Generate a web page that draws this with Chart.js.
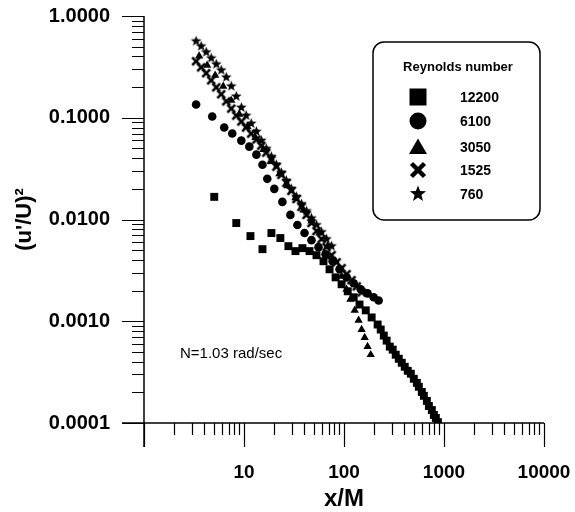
<!DOCTYPE html>
<html><head><meta charset="utf-8">
<script src="https://cdn.jsdelivr.net/npm/chart.js@4.4.0/dist/chart.umd.min.js"></script>
<style>html,body{margin:0;padding:0;background:#fff;}canvas{display:block;}</style>
</head><body>
<canvas id="c" width="575" height="512"></canvas>
<script>
// ---------- data ----------
const seriesLabels = ['12200', '6100', '3050', '1525', '760'];

const re12200X = [5.04, 8.37, 11.6, 15.3, 18.8, 23.1, 27.8, 32.7, 38.4, 45.2, 53.1, 62.4, 71.7, 82.4, 94.6, 109, 125, 143, 165, 189, 217, 233, 250, 267, 287, 307, 329, 353, 378, 405, 434, 466, 499, 535, 560, 600, 629, 674, 706, 756, 792, 829, 869];
const re12200Y = [0.0167, 0.00923, 0.00687, 0.00511, 0.00736, 0.00657, 0.00547, 0.00489, 0.00523, 0.00489, 0.00446, 0.00389, 0.00324, 0.00270, 0.00231, 0.00197, 0.00172, 0.00146, 0.00128, 0.00109, 0.000929, 0.000829, 0.000723, 0.000645, 0.000563, 0.000526, 0.000469, 0.000428, 0.000391, 0.000357, 0.000326, 0.000305, 0.000272, 0.000248, 0.000227, 0.000202, 0.000185, 0.000165, 0.000147, 0.000134, 0.000120, 0.000112, 0.000102];

const re6100X = [3.32, 4.81, 6.34, 7.63, 9.40, 11.3, 13.3, 15.3, 17.1, 20.1, 24.2, 29.1, 34.2, 40.3, 47.3, 55.6, 65.4, 76.9, 90.3, 106, 125, 147, 172, 198, 222];
const re6100Y = [0.135, 0.103, 0.0801, 0.0699, 0.0596, 0.0520, 0.0434, 0.0345, 0.0251, 0.0200, 0.0149, 0.0111, 0.00883, 0.00736, 0.00627, 0.00535, 0.00456, 0.00389, 0.00324, 0.00270, 0.00236, 0.00206, 0.00188, 0.00172, 0.00160];

const re3050X = [3.56, 4.28, 5.15, 6.20, 7.46, 8.97, 10.8, 13.0, 15.6, 18.8, 22.6, 27.2, 32.7, 39.3, 47.3, 56.9, 68.5, 82.4, 94.6, 106, 116, 128, 140, 150, 161, 172, 185];
const re3050Y = [0.403, 0.328, 0.261, 0.204, 0.148, 0.108, 0.0819, 0.0638, 0.0486, 0.0370, 0.0281, 0.0214, 0.0163, 0.0124, 0.00966, 0.00736, 0.00547, 0.00389, 0.00277, 0.00206, 0.00164, 0.00128, 0.00102, 0.000829, 0.000691, 0.000563, 0.000469];

const re1525X = [3.32, 3.73, 4.19, 4.70, 5.28, 5.92, 6.65, 7.46, 8.37, 9.40, 10.5, 11.8, 13.3, 14.9, 16.7, 18.8, 21.1, 23.7, 26.6, 29.8, 33.5, 37.6, 42.2, 47.3, 53.1, 59.6, 66.9, 75.1, 84.3, 94.6, 106, 119, 134, 150];
const re1525Y = [0.359, 0.313, 0.274, 0.233, 0.199, 0.170, 0.145, 0.123, 0.105, 0.0918, 0.0801, 0.0699, 0.0610, 0.0532, 0.0454, 0.0387, 0.0330, 0.0275, 0.0229, 0.0191, 0.0159, 0.0133, 0.0111, 0.00923, 0.00770, 0.00642, 0.00535, 0.00446, 0.00380, 0.00332, 0.00290, 0.00253, 0.00220, 0.00192];

const re760X = [3.32, 3.73, 4.19, 4.70, 5.28, 5.92, 6.65, 7.46, 8.37, 9.40, 10.5, 11.8, 13.3, 14.9, 16.7, 18.8, 21.1, 23.7, 26.6, 29.8, 33.5, 37.6, 42.2, 47.3, 53.1, 59.6, 66.9, 75.1];
const re760Y = [0.566, 0.505, 0.441, 0.385, 0.336, 0.293, 0.250, 0.204, 0.162, 0.126, 0.105, 0.0877, 0.0731, 0.0596, 0.0497, 0.0414, 0.0345, 0.0288, 0.0240, 0.0200, 0.0167, 0.0142, 0.0121, 0.0103, 0.00883, 0.00753, 0.00642, 0.00547];

const xTickValues = [10, 100, 1000, 10000];
const xTickLabels = ['10', '100', '1000', '10000'];
const yTickValues = [0.0001, 0.001, 0.01, 0.1, 1];
const yTickLabels = ['0.0001', '0.0010', '0.0100', '0.1000', '1.0000'];
const xMin = 1, xMax = 10000, yMin = 0.0001, yMax = 1;
const xTitle = 'x/M';
const yTitle = "(u'/U)\u00B2";
const legendTitle = 'Reynolds number';
const noteText = 'N=1.03 rad/sec';

// ---------- marker shapes ----------
const FONT = "'Liberation Sans', Arial, Helvetica, sans-serif";
function starPath(g, cx, cy, R) {
  const r = R * 0.42;
  g.beginPath();
  for (let i = 0; i < 10; i++) {
    const a = -Math.PI / 2 + i * Math.PI / 5;
    const rr = i % 2 === 0 ? R : r;
    const px = cx + rr * Math.cos(a), py = cy + rr * Math.sin(a);
    if (i === 0) g.moveTo(px, py); else g.lineTo(px, py);
  }
  g.closePath();
}
function crossPath(g, cx, cy, s) {
  g.beginPath();
  g.moveTo(cx - s, cy - s); g.lineTo(cx + s, cy + s);
  g.moveTo(cx + s, cy - s); g.lineTo(cx - s, cy + s);
}
function makeImg(size, draw) {
  const c = document.createElement('canvas');
  c.width = size; c.height = size;
  draw(c.getContext('2d'), size / 2);
  return c;
}
const starImg = makeImg(13, (g, h) => { starPath(g, h, h, 5.6); g.fillStyle = '#000'; g.fill(); });
const crossImg = makeImg(12, (g, h) => { crossPath(g, h, h, 3.9); g.strokeStyle = '#000'; g.lineWidth = 2.7; g.stroke(); });

function pts(xs, ys) { return xs.map((x, i) => ({ x: x, y: ys[i] })); }

// ---------- plugins ----------
const axesPlugin = {
  id: 'axesPlugin',
  afterDatasetsDraw(chart) {
    const { ctx, chartArea: a, scales: { x, y } } = chart;
    ctx.save();
    ctx.strokeStyle = '#000';
    ctx.lineWidth = 1.5;
    ctx.beginPath();
    ctx.moveTo(a.left, a.top); ctx.lineTo(a.left, a.bottom + 24);
    ctx.moveTo(a.left - 22, a.bottom); ctx.lineTo(a.right, a.bottom);
    ctx.stroke();
    ctx.lineWidth = 1.2;
    ctx.beginPath();
    for (let k = 0; k <= 4; k++) {
      for (let m = 1; m <= 9; m++) {
        const v = m * Math.pow(10, k);
        if (v > xMax * 1.0001) continue;
        const px = Math.round(x.getPixelForValue(v)) + 0.5;
        const len = m === 1 ? 24 : 12;
        ctx.moveTo(px, a.bottom); ctx.lineTo(px, a.bottom + len);
      }
    }
    for (let k = -4; k <= 0; k++) {
      for (let m = 1; m <= 9; m++) {
        const v = m * Math.pow(10, k);
        if (v > yMax * 1.0001) continue;
        const py = Math.round(y.getPixelForValue(v)) + 0.5;
        const len = m === 1 ? 22 : 12;
        ctx.moveTo(a.left - len, py); ctx.lineTo(a.left, py);
      }
    }
    ctx.stroke();
    ctx.restore();
  }
};

const legendPlugin = {
  id: 'legendPlugin',
  afterDraw(chart) {
    const ctx = chart.ctx;
    ctx.save();
    const bx = 373, by = 42, bw = 167, bh = 178, r = 11;
    ctx.strokeStyle = '#000'; ctx.lineWidth = 1.5;
    ctx.beginPath();
    ctx.moveTo(bx + r, by); ctx.lineTo(bx + bw - r, by); ctx.arcTo(bx + bw, by, bx + bw, by + r, r);
    ctx.lineTo(bx + bw, by + bh - r); ctx.arcTo(bx + bw, by + bh, bx + bw - r, by + bh, r);
    ctx.lineTo(bx + r, by + bh); ctx.arcTo(bx, by + bh, bx, by + bh - r, r);
    ctx.lineTo(bx, by + r); ctx.arcTo(bx, by, bx + r, by, r);
    ctx.closePath(); ctx.stroke();
    ctx.fillStyle = '#000';
    ctx.font = 'bold 13px ' + FONT;
    ctx.textAlign = 'center'; ctx.textBaseline = 'middle';
    ctx.fillText(legendTitle, 458, 67);
    const ys = [97, 121, 147, 170, 194];
    const mx = 418;
    chart.data.datasets.forEach((ds, i) => {
      const yy = ys[i];
      ctx.fillStyle = '#000'; ctx.strokeStyle = '#000';
      if (i === 0) { ctx.fillRect(mx - 8.5, yy - 8.5, 17, 17); }
      else if (i === 1) { ctx.beginPath(); ctx.arc(mx, yy, 8.5, 0, Math.PI * 2); ctx.fill(); }
      else if (i === 2) { ctx.beginPath(); ctx.moveTo(mx, yy - 8.5); ctx.lineTo(mx + 9, yy + 7); ctx.lineTo(mx - 9, yy + 7); ctx.closePath(); ctx.fill(); }
      else if (i === 3) { crossPath(ctx, mx, yy, 6.5); ctx.lineWidth = 4.5; ctx.stroke(); }
      else { starPath(ctx, mx, yy, 8.5); ctx.fill(); }
      ctx.font = 'bold 14px ' + FONT;
      ctx.textAlign = 'left'; ctx.textBaseline = 'middle';
      ctx.fillText(ds.label, 460, yy + 1);
    });
    ctx.font = '15px ' + FONT;
    ctx.textAlign = 'left'; ctx.textBaseline = 'middle';
    ctx.fillText(noteText, 180, 354);
    ctx.restore();
  }
};

// ---------- chart ----------
Chart.defaults.font.family = FONT;
Chart.defaults.color = '#000';

const common = { backgroundColor: '#000', borderColor: '#000', borderWidth: 0, showLine: false };

new Chart(document.getElementById('c'), {
  type: 'scatter',
  data: {
    datasets: [
      Object.assign({ label: seriesLabels[0], data: pts(re12200X, re12200Y), pointStyle: 'rect', pointRadius: 5.6, pointHoverRadius: 5.6 }, common),
      Object.assign({ label: seriesLabels[1], data: pts(re6100X, re6100Y), pointStyle: 'circle', pointRadius: 4.3, pointHoverRadius: 4.3 }, common),
      Object.assign({ label: seriesLabels[2], data: pts(re3050X, re3050Y), pointStyle: 'triangle', pointRadius: 4.8, pointHoverRadius: 4.8 }, common),
      Object.assign({ label: seriesLabels[3], data: pts(re1525X, re1525Y), pointStyle: crossImg, pointRadius: 4, pointHoverRadius: 4 }, common),
      Object.assign({ label: seriesLabels[4], data: pts(re760X, re760Y), pointStyle: starImg, pointRadius: 4, pointHoverRadius: 4 }, common)
    ]
  },
  options: {
    responsive: false,
    animation: false,
    layout: { padding: { left: 0, right: 31, top: 16, bottom: 0 } },
    plugins: { legend: { display: false }, tooltip: { enabled: false } },
    scales: {
      x: {
        type: 'logarithmic', min: xMin, max: xMax,
        afterBuildTicks: (s) => { s.ticks = xTickValues.map(v => ({ value: v })); },
        afterFit: (s) => { s.height = 89; s.paddingLeft = 0; s.paddingRight = 0; },
        grid: { display: true, drawOnChartArea: false, drawTicks: true, tickLength: 22, tickColor: 'rgba(0,0,0,0)' },
        border: { display: false },
        ticks: { autoSkip: false, maxRotation: 0, padding: 16, font: { size: 19, weight: 'bold' }, color: '#000',
          callback: (v, i) => xTickLabels[i] },
        title: { display: true, text: xTitle, font: { size: 24, weight: 'bold', lineHeight: 1 }, padding: { top: 0, bottom: 1 }, color: '#000' }
      },
      y: {
        type: 'logarithmic', min: yMin, max: yMax,
        afterBuildTicks: (s) => { s.ticks = yTickValues.map(v => ({ value: v })); },
        afterFit: (s) => { s.width = 144; s.paddingTop = 0; s.paddingBottom = 0; },
        grid: { display: true, drawOnChartArea: false, drawTicks: true, tickLength: 22, tickColor: 'rgba(0,0,0,0)' },
        border: { display: false },
        ticks: { autoSkip: false, padding: 12, font: { size: 20, weight: 'bold' }, color: '#000',
          callback: (v, i) => yTickLabels[i] },
        title: { display: true, text: yTitle, font: { size: 22, weight: 'bold', lineHeight: 1 }, padding: { top: 14, bottom: 0 }, color: '#000' }
      }
    }
  },
  plugins: [axesPlugin, legendPlugin]
});
</script>
</body></html>
